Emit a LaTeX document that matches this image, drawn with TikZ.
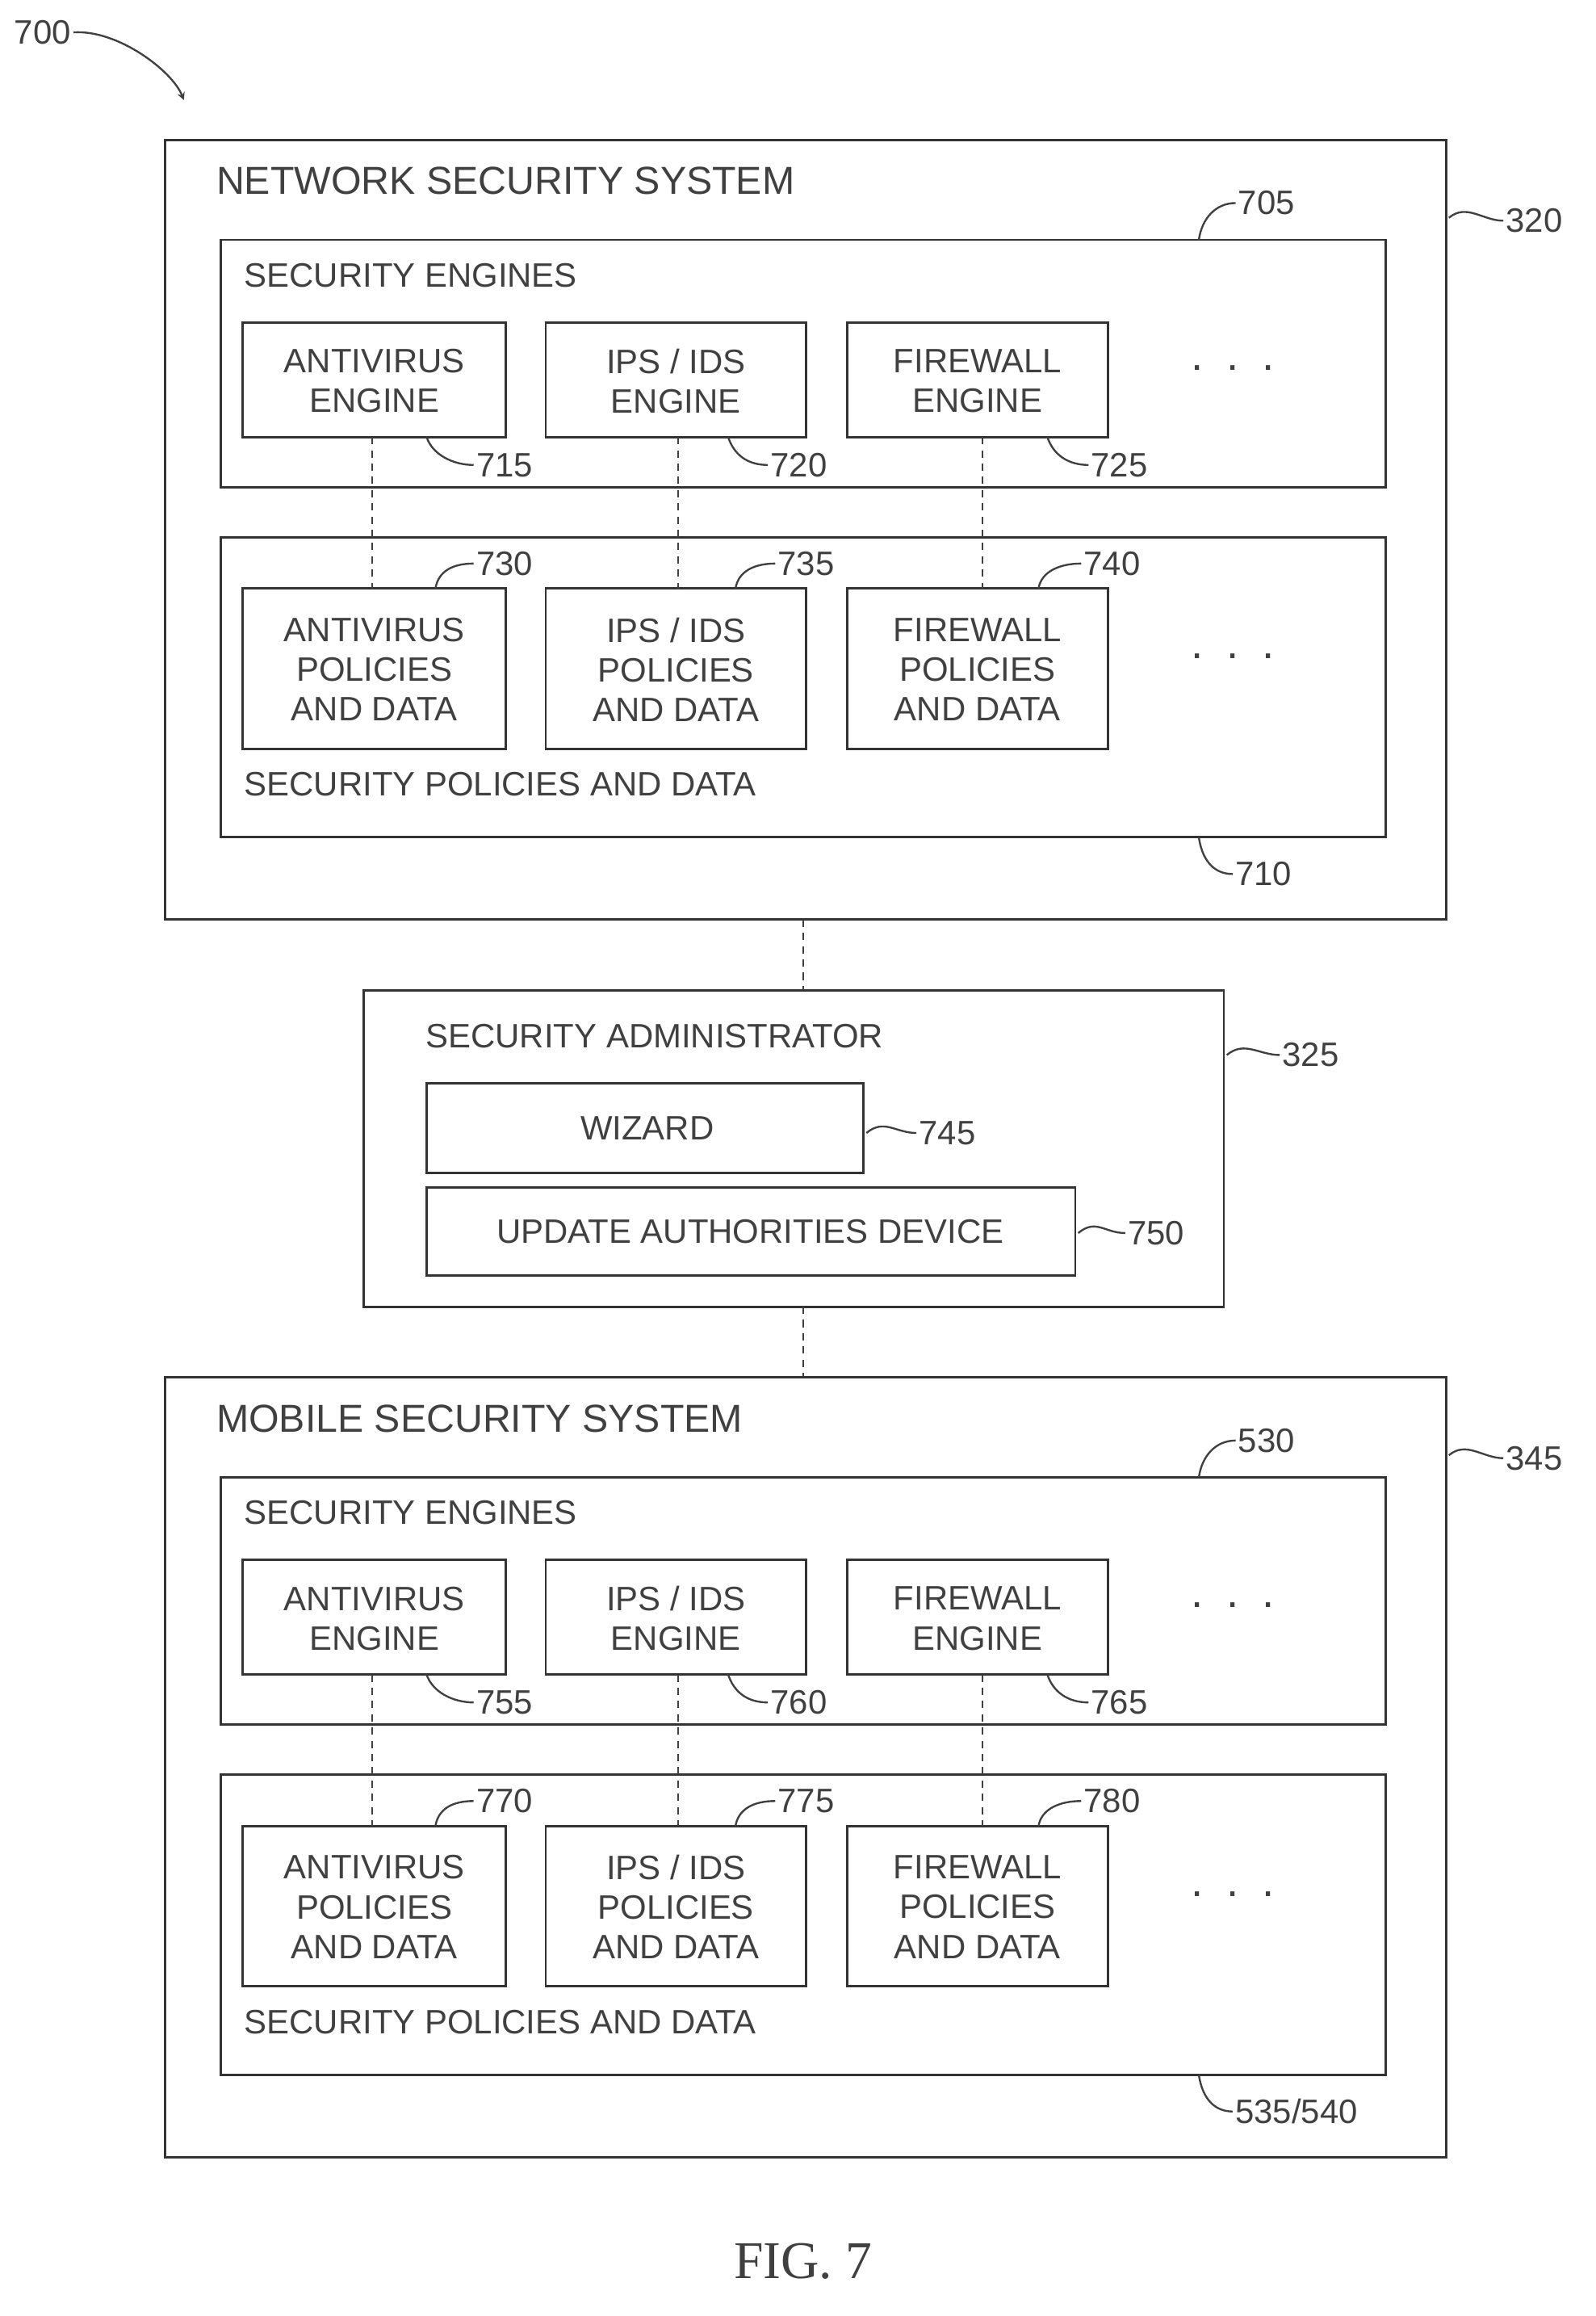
\documentclass[tikz,border=0pt]{standalone}
\usepackage{fontspec}
\setmainfont{Liberation Sans}
\newfontfamily\figfont{Liberation Serif}
\begin{document}
\begin{tikzpicture}[x=1pt,y=-1pt,line width=1.6pt,
 box/.style={draw,black!80},
 t/.style={font=\fontsize{23}{27}\selectfont,text=black!75,align=center},
 big/.style={font=\fontsize{26.5}{28}\selectfont,text=black!75,anchor=west},
 num/.style={font=\fontsize{23}{25}\selectfont,text=black!75,anchor=west,inner sep=1pt},
 dsh/.style={dashed,dash pattern=on 5pt off 4pt,line width=1.3pt,black!75},
 ld/.style={line width=1.3pt,black!75}]
\useasboundingbox (0,0) rectangle (1085,1574);
\newcommand\lbl[5]{% name, label pos, text, start pos
 \node[num] (#1) at (#2) {#3};
 \coordinate (#1s) at (#4);
 \draw[ld] (#1s) .. controls +(#5) and +(-14,0) .. (#1.west);}
% 700
\node[num] (l700) at (8,22) {700};
\coordinate (a700) at (125,68);
\draw[ld,->,>=stealth] (l700.east) .. controls +(30,-2) and +(-8,-20) .. (a700);
% two systems
\foreach \oy/\title/\outer/\eng/\pol/\ea/\eb/\ec/\pa/\pb/\pc/\pd/\id in
 {0/NETWORK SECURITY SYSTEM/320/705/710/715/720/725/730/735/740/710/n,
  841/MOBILE SECURITY SYSTEM/345/530/535\slash 540/755/760/765/770/775/780/535/m}{
 \begin{scope}[yshift=-\oy]
 \draw[box] (112,95) rectangle (983,625);
 \node[big] (tt\id) at (143,123) {\title};
 \draw[box] (150,163) rectangle (942,331);
 \node[t,anchor=west] (se\id) at (162,187) {SECURITY ENGINES};
 \draw[box] (165,219) rectangle (344,297); \node[t] (e1\id) at (254.5,259) {ANTIVIRUS\\ENGINE};
 \draw[box] (371,219) rectangle (548,297); \node[t] (e2\id) at (459.5,259) {IPS / IDS\\ENGINE};
 \draw[box] (576,219) rectangle (753,297); \node[t] (e3\id) at (664.5,259) {FIREWALL\\ENGINE};
 \node[t,font=\fontsize{30}{30}\selectfont] (d1\id) at (838,250) {.\hspace{16pt}.\hspace{16pt}.};
 \draw[box] (150,365) rectangle (942,569);
 \draw[box] (165,400) rectangle (344,509); \node[t] (p1\id) at (254.5,455) {ANTIVIRUS\\POLICIES\\AND DATA};
 \draw[box] (371,400) rectangle (548,509); \node[t] (p2\id) at (459.5,455) {IPS / IDS\\POLICIES\\AND DATA};
 \draw[box] (576,400) rectangle (753,509); \node[t] (p3\id) at (664.5,455) {FIREWALL\\POLICIES\\AND DATA};
 \node[t,font=\fontsize{30}{30}\selectfont] (d2\id) at (838,446) {.\hspace{16pt}.\hspace{16pt}.};
 \node[t,anchor=west] (sp\id) at (162,533) {SECURITY POLICIES AND DATA};
 \coordinate (x1\id) at (253,297); \coordinate (y1\id) at (253,400);
 \coordinate (x2\id) at (461,297); \coordinate (y2\id) at (461,400);
 \coordinate (x3\id) at (668,297); \coordinate (y3\id) at (668,400);
 \draw[dsh] (x1\id) -- (y1\id); \draw[dsh] (x2\id) -- (y2\id); \draw[dsh] (x3\id) -- (y3\id);
 \lbl{o\id}{1022,150}{\outer}{985,148}{12,-10}
 \lbl{g\id}{840,138}{\eng}{815,163}{2,-14}
 \lbl{h\id}{838,594}{\pol}{815,569}{2,14}
 \lbl{i\id}{322,316}{\ea}{290,297}{4,12}
 \lbl{j\id}{522,316}{\eb}{495,297}{4,12}
 \lbl{k\id}{740,316}{\ec}{712,297}{4,12}
 \lbl{q\id}{322,383}{\pa}{296,400}{2,-12}
 \lbl{r\id}{527,383}{\pb}{500,400}{2,-12}
 \lbl{s\id}{735,383}{\pc}{706,400}{2,-12}
 \end{scope}}
% security administrator
\draw[box] (247,673) rectangle (832,888);
\node[t] (sat) at (445,704) {SECURITY ADMINISTRATOR};
\draw[box] (290,736) rectangle (587,797); \node[t] (wz) at (440,767) {WIZARD};
\draw[box] (290,807) rectangle (731,867); \node[t] (ua) at (510,837) {UPDATE AUTHORITIES DEVICE};
\lbl{l325}{870,717}{325}{834,717}{12,-10}
\lbl{l745}{623,770}{745}{589,770}{12,-10}
\lbl{l750}{765,838}{750}{733,838}{12,-10}
\coordinate (c1) at (546,625); \coordinate (c2) at (546,673);
\coordinate (c3) at (546,888); \coordinate (c4) at (546,935);
\draw[dsh] (c1) -- (c2); \draw[dsh] (c3) -- (c4);
\node[font=\figfont\fontsize{36}{38}\selectfont,text=black!75] (fig) at (546,1537) {FIG. 7};
\end{tikzpicture}
\end{document}
